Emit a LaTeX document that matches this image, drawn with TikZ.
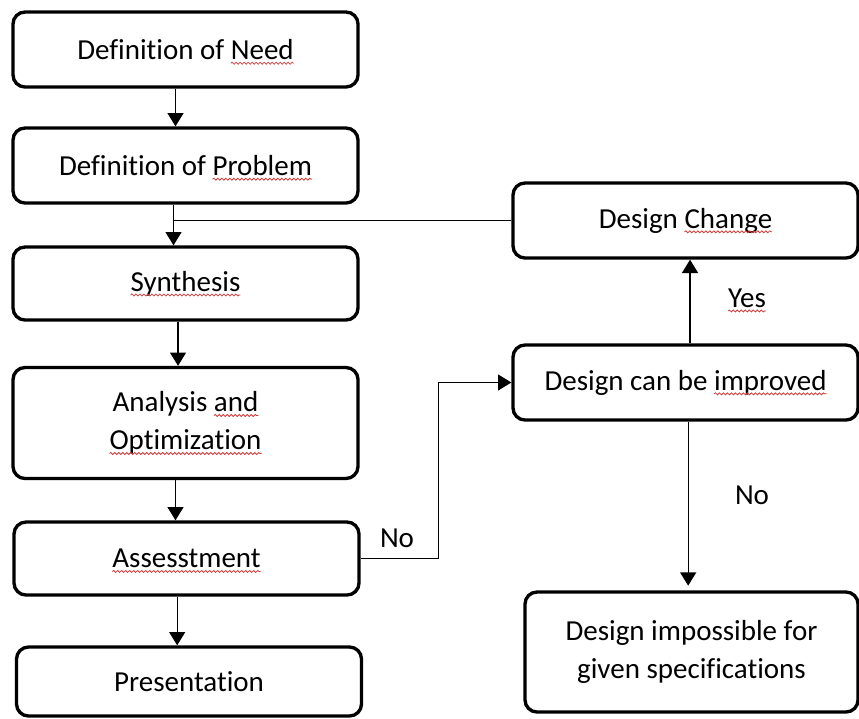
\documentclass[tikz,border=0pt]{standalone}
\usepackage{fontspec}
\setmainfont{Carlito}[Ligatures=NoCommon]
\usetikzlibrary{arrows.meta,decorations.pathmorphing}
\definecolor{squig}{RGB}{205,60,60}
% word with a red wavy underline
\newcommand\spellmark[1]{\tikz[baseline=(w.base)]{%
  \node[draw=none,fill=none,inner sep=0pt,outer sep=0pt,minimum width=0pt,minimum height=0pt,sharp corners,anchor=base] (w) {#1};%
  \draw[overlay,draw=squig,line width=0.6pt,sharp corners,decorate,decoration={snake,amplitude=0.75pt,segment length=3pt}]
    ([yshift=-2.8pt]w.base west) -- ([yshift=-2.8pt]w.base east);}}
\begin{document}
\begin{tikzpicture}[x=0.75pt,y=-0.75pt,
  every node/.style={font=\fontsize{21.75pt}{28.5pt}\selectfont},
  box/.style={draw,line width=2.5pt,rounded corners=9pt,align=center,inner sep=0pt,
              minimum width=258.75pt,minimum height=56.25pt},
  arr/.style={line width=1pt,-{Triangle[length=10pt,width=12pt]}},
  link/.style={line width=1pt},
  lbl/.style={inner sep=0pt}]
\useasboundingbox (0,0) rectangle (859,718);

% main chain
\node[box] (need) at (185.5,49.5) {Definition of \spellmark{Need}};
\node[box] (prob) at (185.5,165.5) {Definition of \spellmark{Problem}};
\node[box,minimum height=54.75pt] (syn) at (185.5,283.5) {\spellmark{Synthesis}};
\node[box,minimum height=83.25pt] (ana) at (185.5,423) {Analysis \spellmark{and}\\\spellmark{Optimization}};
\node[box,minimum height=54.75pt] (ass) at (186.5,558.5) {\spellmark{Assesstment}};
\node[box,minimum height=51.75pt] (pre) at (189,681.5) {Presentation};

% feedback branch
\node[box] (chg) at (685.5,220.5) {Design \spellmark{Change}};
\node[box] (imp) at (685.5,382.5) {Design can be \spellmark{improved}};
\node[box,minimum width=249.75pt,minimum height=90pt] (nop) at (691.5,652) {Design impossible for\\given specifications};

% connectors of the main chain
\draw[arr] ([xshift=-7.5pt]need.south) -- ([xshift=-7.5pt]need.south |- prob.north);
\draw[arr] ([xshift=-9pt]prob.south) -- ([xshift=-9pt]prob.south |- syn.north);
\draw[arr] ([xshift=-5.6pt]syn.south) -- ([xshift=-5.6pt]syn.south |- ana.north);
\draw[arr] ([xshift=-7.5pt]ana.south) -- ([xshift=-7.5pt]ana.south |- ass.north);
\draw[arr] ([xshift=-7pt]ass.south) -- ([xshift=-7pt]ass.south |- pre.north);

% return from the design change
\coordinate (join) at (173,218);
\draw[link] (chg.west) -- (chg.west -| join);

% assessment to the improvement decision
\draw[arr] (ass.east) -- ++(78,0) |- (imp.west);
\node[lbl] (no1) at (397,538) {No};

% decision outcomes
\draw[arr] ([xshift=3.4pt]imp.north) -- ([xshift=3.4pt]chg.south);
\node[lbl] (yes) at (747,298) {\spellmark{Yes}};
\draw[arr,shorten >=3.5pt] ([xshift=2pt]imp.south) -- ([xshift=2pt]imp.south |- nop.north);
\node[lbl] (no2) at (752,495) {No};
\end{tikzpicture}
\end{document}
